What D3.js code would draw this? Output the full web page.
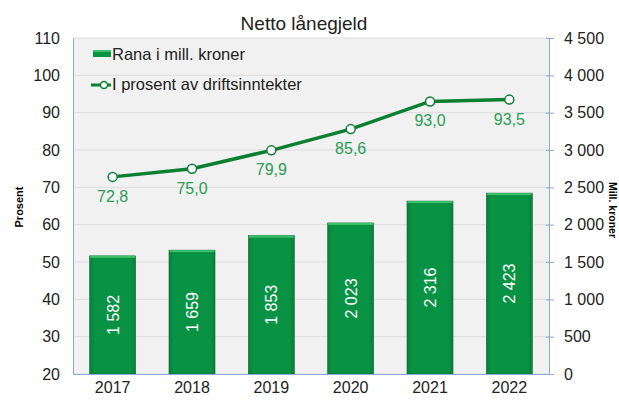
<!doctype html>
<html lang="no">
<head>
  <meta charset="utf-8">
  <script src="https://d3js.org/d3.v7.min.js"></script>
  <style>
    body { margin: 0; background: #fff; }
    svg { font-family: "Liberation Sans", Arial, sans-serif; }
  </style>
</head>
<body>
  <svg id="chart" width="619" height="401"></svg>
  <script>
    // data
    const years = ["2017", "2018", "2019", "2020", "2021", "2022"];
    const millKroner = [1582, 1659, 1853, 2023, 2316, 2423];
    const prosent = [72.8, 75.0, 79.9, 85.6, 93.0, 93.5];
    const leftTicks = [20, 30, 40, 50, 60, 70, 80, 90, 100, 110];
    const rightTicks = [0, 500, 1000, 1500, 2000, 2500, 3000, 3500, 4000, 4500];

    const width = 619, height = 401;
    const margin = {top: 38, right: 70, bottom: 27, left: 73};

    const no = d3.formatLocale({decimal: ",", thousands: "\u00a0", grouping: [3], currency: ["", " kr"]});
    const fmtInt = no.format(",d");
    const fmtDec = no.format(".1f");

    const svg = d3.select("#chart");

    const x = d3.scaleBand()
        .domain(years)
        .range([margin.left, width - margin.right])
        .paddingInner(0.42)
        .paddingOuter(0.21);

    const yL = d3.scaleLinear().domain([20, 110]).range([height - margin.bottom, margin.top]);
    const yR = d3.scaleLinear().domain([0, 4500]).range([height - margin.bottom, margin.top]);

    const defs = svg.append("defs");
    const grad = defs.append("linearGradient").attr("id", "barGrad")
        .attr("x1", "0%").attr("x2", "100%").attr("y1", "0%").attr("y2", "0%");
    grad.append("stop").attr("offset", "0%").attr("stop-color", "#0a7d39");
    grad.append("stop").attr("offset", "10%").attr("stop-color", "#089243");
    grad.append("stop").attr("offset", "90%").attr("stop-color", "#089243");
    grad.append("stop").attr("offset", "100%").attr("stop-color", "#0a7d39");

    // plot background
    svg.append("rect")
        .attr("x", margin.left).attr("y", margin.top)
        .attr("width", width - margin.left - margin.right)
        .attr("height", height - margin.top - margin.bottom)
        .attr("fill", "#f1f1f1");

    // grid
    svg.append("g")
      .selectAll("line")
      .data(leftTicks)
      .join("line")
        .attr("x1", margin.left).attr("x2", width - margin.right)
        .attr("y1", d => yL(d)).attr("y2", d => yL(d))
        .attr("stroke", "#dcdcdc").attr("stroke-width", 1);

    // title
    svg.append("text")
        .attr("x", 304).attr("y", 30)
        .attr("text-anchor", "middle")
        .attr("font-size", 19)
        .attr("fill", "#222")
        .text("Netto lånegjeld");

    // bars
    const bars = svg.append("g");
    bars.selectAll("rect.bar")
      .data(millKroner)
      .join("rect")
        .attr("class", "bar")
        .attr("x", (d, i) => x(years[i]))
        .attr("width", x.bandwidth())
        .attr("y", d => yR(d))
        .attr("height", d => yR(0) - yR(d))
        .attr("fill", "url(#barGrad)")
        .attr("stroke", "#0b6f33").attr("stroke-width", 0.6);
    bars.selectAll("rect.cap")
      .data(millKroner)
      .join("rect")
        .attr("class", "cap")
        .attr("x", (d, i) => x(years[i]) + 0.5)
        .attr("width", x.bandwidth() - 1)
        .attr("y", d => yR(d))
        .attr("height", 2)
        .attr("fill", "#3fbf6b");

    // bar labels
    svg.append("g")
      .selectAll("text")
      .data(millKroner)
      .join("text")
        .attr("transform", (d, i) => `translate(${x(years[i]) + x.bandwidth() / 2 + 6},${(yR(d) + yR(0)) / 2}) rotate(-90)`)
        .attr("text-anchor", "middle")
        .attr("font-size", 16)
        .attr("fill", "#fff")
        .text(d => fmtInt(d));

    // axes
    const axisColor = "#8aa8d8";
    const tickFont = g => g.selectAll("text").attr("font-size", 16).attr("fill", "#222")
        .attr("font-family", "Liberation Sans, Arial, sans-serif");

    const gL = svg.append("g")
        .attr("transform", `translate(${margin.left},0)`)
        .call(d3.axisLeft(yL).tickValues(leftTicks).tickSize(0).tickPadding(13));
    gL.select(".domain").attr("stroke", axisColor);
    gL.call(tickFont);

    const gR = svg.append("g")
        .attr("transform", `translate(${width - margin.right},0)`)
        .call(d3.axisRight(yR).tickValues(rightTicks).tickFormat(fmtInt).tickSize(5).tickPadding(10));
    gR.select(".domain").attr("stroke", axisColor);
    gR.selectAll(".tick line").attr("stroke", axisColor).attr("x1", -3);
    gR.call(tickFont);

    const gB = svg.append("g")
        .attr("transform", `translate(0,${height - margin.bottom})`)
        .call(d3.axisBottom(x).tickSize(0).tickPadding(8).tickSizeOuter(0));
    gB.select(".domain").attr("stroke", axisColor);
    gB.call(tickFont);

    // axis titles
    svg.append("text")
        .attr("transform", "translate(23,207) rotate(-90)")
        .attr("text-anchor", "middle")
        .attr("font-size", 11).attr("font-weight", "bold")
        .text("Prosent");
    svg.append("text")
        .attr("transform", "translate(609,210) rotate(90)")
        .attr("text-anchor", "middle")
        .attr("font-size", 10.5).attr("font-weight", "bold")
        .text("Mill. kroner");

    // line
    const line = d3.line()
        .x((d, i) => x(years[i]) + x.bandwidth() / 2)
        .y(d => yL(d));
    svg.append("path")
        .datum(prosent)
        .attr("d", line)
        .attr("fill", "none")
        .attr("stroke", "#0a7f30")
        .attr("stroke-width", 3.5);
    svg.append("g")
      .selectAll("circle")
      .data(prosent)
      .join("circle")
        .attr("cx", (d, i) => x(years[i]) + x.bandwidth() / 2)
        .attr("cy", d => yL(d))
        .attr("r", 4.5)
        .attr("fill", "#fff")
        .attr("stroke", "#0a7f30")
        .attr("stroke-width", 1.5);
    svg.append("g")
      .selectAll("text")
      .data(prosent)
      .join("text")
        .attr("x", (d, i) => x(years[i]) + x.bandwidth() / 2)
        .attr("y", d => yL(d) + 25)
        .attr("text-anchor", "middle")
        .attr("font-size", 16)
        .attr("fill", "#2a9d52")
        .text(d => fmtDec(d));

    // legend
    const leg = svg.append("g");
    leg.append("rect").attr("x", 93).attr("y", 50).attr("width", 18).attr("height", 7).attr("fill", "#089243");
    leg.append("rect").attr("x", 93).attr("y", 50).attr("width", 18).attr("height", 2).attr("fill", "#3fbf6b");
    leg.append("text").attr("x", 112).attr("y", 60).attr("font-size", 16.5).attr("fill", "#222").text("Rana i mill. kroner");
    leg.append("line").attr("x1", 91).attr("x2", 111).attr("y1", 85).attr("y2", 85)
        .attr("stroke", "#0a7f30").attr("stroke-width", 3);
    leg.append("circle").attr("cx", 104).attr("cy", 85).attr("r", 3.5)
        .attr("fill", "#fff").attr("stroke", "#0a7f30").attr("stroke-width", 1.5);
    leg.append("text").attr("x", 112).attr("y", 90).attr("font-size", 16.5).attr("fill", "#222").text("I prosent av driftsinntekter");
  </script>
</body>
</html>
